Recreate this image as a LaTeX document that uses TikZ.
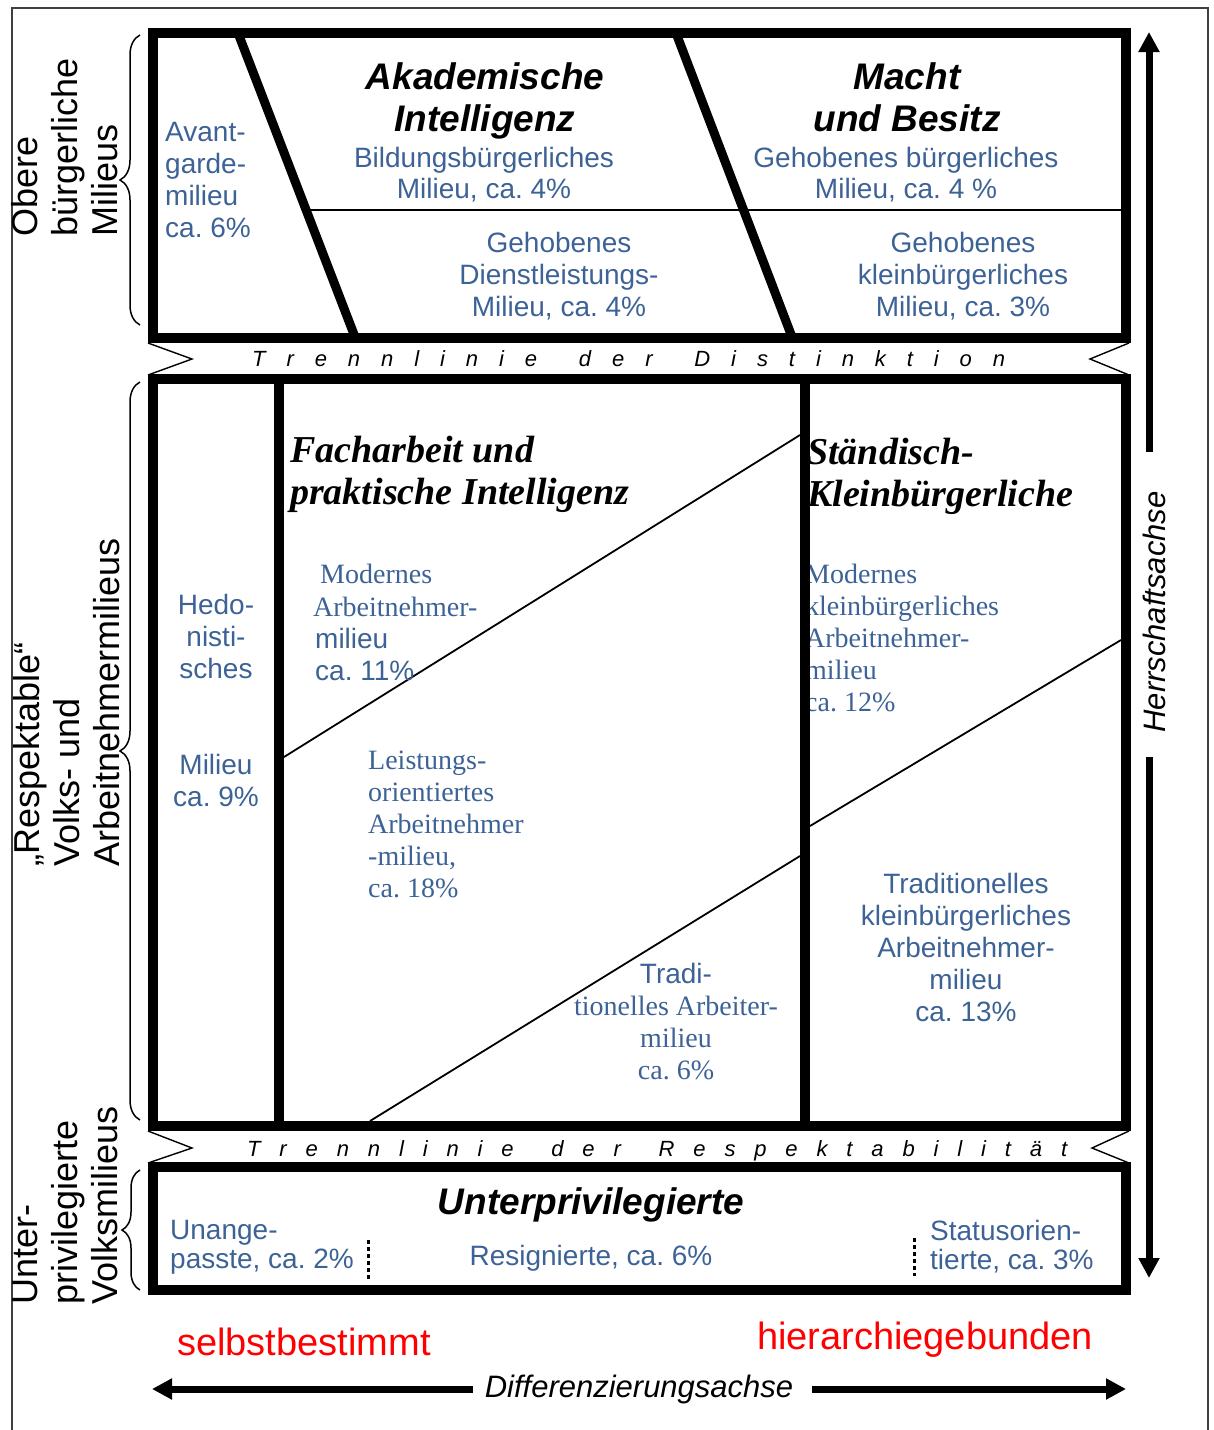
\documentclass[tikz,border=0pt]{standalone}
\usepackage{fontspec}
\setmainfont{Liberation Serif}
\newfontfamily\arialf{Liberation Sans}
\usetikzlibrary{arrows.meta,decorations.pathreplacing}
\definecolor{milblue}{RGB}{60,98,150}
\definecolor{milred}{RGB}{255,0,0}
\newcommand\fsz[2]{\fontsize{#1}{#2}\selectfont}
\frenchspacing
\begin{document}
\begin{tikzpicture}[x=1pt,y=-1pt,
  boxline/.style={line width=10pt},
  diagthick/.style={line width=9pt},
  thinline/.style={line width=1.8pt},
  chev/.style={line width=1.4pt},
  sanblue/.style={font=\arialf\fsz{28}{32}, text=milblue, inner sep=0pt},
  serblue/.style={font=\fsz{28}{32}, text=milblue, inner sep=0pt},
  titlesans/.style={font=\arialf\bfseries\itshape\fsz{37}{42}, inner sep=0pt, align=center},
  titleserif/.style={font=\bfseries\itshape\fsz{38}{42}, inner sep=0pt, align=left},
  sidelabel/.style={font=\arialf\fsz{36}{40}, rotate=90, align=left, anchor=west, inner sep=0pt},
  bandtext/.style={font=\arialf\itshape\fsz{22}{24}, inner sep=0pt, anchor=base west},
  axisarrow/.style={line width=7pt, -{Triangle[width=20pt,length=20pt]}},
  bracket/.style={decorate, decoration={brace, amplitude=20pt}, line width=1.5pt},
  redtext/.style={font=\arialf\fsz{38}{40}, text=milred, inner sep=0pt, anchor=base},
  axislabel/.style={font=\arialf\itshape\fsz{31}{33}, inner sep=0pt}
]
\useasboundingbox (0,0) rectangle (1214,1430);
% outer frame
\draw[line width=1.5pt, black!75] (12,1430) -- (12,8) -- (1208,8) -- (1208,1430);

% braces
\coordinate (b1s) at (140,325); \coordinate (b1e) at (140,35);
\coordinate (b2s) at (140,1120); \coordinate (b2e) at (140,382);
\coordinate (b3s) at (140,1290); \coordinate (b3e) at (140,1170);
\draw[bracket] (b1s) -- (b1e);
\draw[bracket] (b2s) -- (b2e);
\draw[bracket, decoration={brace, amplitude=18pt}] (b3s) -- (b3e);

% side labels
\node[sidelabel] (obere) at (65,237) {Obere\\bürgerliche\\Milieus};
\node[sidelabel] (respekt) at (67,867) {„Respektable“\\Volks- und\\Arbeitnehmermilieus};
\node[sidelabel] (unterl) at (65,1305) {Unter-\\privilegierte\\Volksmilieus};

% text partly hidden by divider
\node[serblue, align=left, anchor=north west] (modk) at (805,564) {Modernes\\kleinbürgerliches\\Arbeitnehmer-\\milieu\\ca. 12\%};

% top box
\draw[boxline] (153,32.5) rectangle (1126,338);
\draw[diagthick] (238,33) -- (355,337);
\draw[diagthick] (676,33) -- (792,337);
\draw[thinline] (305,210) -- (1122,210);

% distinction band
\draw[chev] (148,343) -- (192,359) -- (148,375);
\draw[chev] (1129,343) -- (1090,359) -- (1129,375);
\node[bandtext] (dist) at (252,366) {\hbox to 753pt{T\hfill r\hfill e\hfill n\hfill n\hfill l\hfill i\hfill n\hfill i\hfill e\hfill\hfill d\hfill e\hfill r\hfill\hfill D\hfill i\hfill s\hfill t\hfill i\hfill n\hfill k\hfill t\hfill i\hfill o\hfill n}};

% middle box
\draw[boxline] (153,379) rectangle (1126,1126);
\draw[boxline] (279,379) -- (279,1126);
\draw[boxline] (805,379) -- (805,1126);
\draw[thinline] (284,757) -- (800,435);
\draw[thinline] (370,1121) -- (800,856);
\draw[thinline] (810,826) -- (1121,640);

% respectability band
\draw[chev] (148,1131) -- (192,1148) -- (148,1163);
\draw[chev] (1129,1131) -- (1092,1148) -- (1129,1163);
\node[bandtext] (resp) at (247,1156) {\hbox to 820pt{T\hfill r\hfill e\hfill n\hfill n\hfill l\hfill i\hfill n\hfill i\hfill e\hfill\hfill d\hfill e\hfill r\hfill\hfill R\hfill e\hfill s\hfill p\hfill e\hfill k\hfill t\hfill a\hfill b\hfill i\hfill l\hfill i\hfill t\hfill ä\hfill t}};

% bottom box
\draw[boxline] (153,1167) rectangle (1126,1290);
\draw[line width=3pt, dash pattern=on 4pt off 3pt] (368,1240) -- (368,1280);
\draw[line width=3pt, dash pattern=on 4pt off 3pt] (914,1238) -- (914,1276);

% top box texts
\node[titlesans, anchor=north] (akad) at (485,62) {Akademische\\Intelligenz};
\node[titlesans, anchor=north] (macht) at (907,62) {Macht\\und Besitz};
\node[sanblue, font=\arialf\fsz{28}{31}, align=center, anchor=north] (bild) at (484,147) {Bildungsbürgerliches\\Milieu, ca. 4\%};
\node[sanblue, font=\arialf\fsz{28}{31}, align=center, anchor=north] (gbm) at (906,147) {Gehobenes bürgerliches\\Milieu, ca. 4 \%};
\node[sanblue, align=center, anchor=north] (gdl) at (559,232) {Gehobenes\\Dienstleistungs-\\Milieu, ca. 4\%};
\node[sanblue, align=center, anchor=north] (gkm) at (963,232) {Gehobenes\\kleinbürgerliches\\Milieu, ca. 3\%};
\node[sanblue, align=left, anchor=north west] (avant) at (165,122) {Avant-\\garde-\\milieu\\ca. 6\%};

% middle box texts
\node[sanblue, align=center, anchor=north] (hedo) at (216,594) {Hedo-\\nisti-\\sches};
\node[sanblue, align=center, anchor=north] (hedom) at (216,754) {Milieu\\ca. 9\%};
\node[titleserif, anchor=north west] (fach) at (290,436) {Facharbeit und\\praktische Intelligenz};
\node[titleserif, anchor=north west] (staend) at (807,438) {Ständisch-\\Kleinbürgerliche};
\node[serblue, anchor=base west] (mod1) at (320,583) {Modernes};
\node[serblue, anchor=base west] (mod2) at (313,616) {Arbeitnehmer-};
\node[sanblue, anchor=base west] (mod3) at (315,648) {milieu};
\node[sanblue, anchor=base west] (mod4) at (315,680) {ca. 11\%};
\node[serblue, align=left, anchor=north west] (leist) at (368,751) {Leistungs-\\orientiertes\\Arbeitnehmer\\-milieu,\\ca. 18\%};
\node[sanblue, anchor=base] (trad1) at (676,983) {Tradi-};
\node[serblue, align=center, anchor=north] (trad2) at (676,996) {tionelles Arbeiter-\\milieu\\ca. 6\%};
\node[sanblue, align=center, anchor=north] (tradk) at (966,873) {Traditionelles\\kleinbürgerliches\\Arbeitnehmer-\\milieu\\ca. 13\%};

% bottom box texts
\node[titlesans, anchor=base] (unter) at (591,1214) {Unterprivilegierte};
\node[sanblue, font=\arialf\fsz{28}{29}, align=left, anchor=north west] (unang) at (170,1220) {Unange-\\passte, ca. 2\%};
\node[sanblue, anchor=base] (resig) at (591,1265) {Resignierte, ca. 6\%};
\node[sanblue, font=\arialf\fsz{28}{29}, align=left, anchor=north west] (status) at (930,1220) {Statusorien-\\tierte, ca. 3\%};

% red labels
\node[redtext] (selbst) at (304,1355) {selbstbestimmt};
\node[redtext] (hier) at (925,1349) {hierarchiegebunden};

% axes
\node[axislabel, anchor=base] (diff) at (639,1397) {Differenzierungsachse};
\coordinate (dL1) at (473,1389); \coordinate (dL2) at (152,1389);
\coordinate (dR1) at (812,1389); \coordinate (dR2) at (1126,1389);
\draw[axisarrow] (dL1) -- (dL2);
\draw[axisarrow] (dR1) -- (dR2);
\node[axislabel, rotate=90] (herr) at (1154,612) {Herrschaftsachse};
\coordinate (hT1) at (1149,452); \coordinate (hT2) at (1149,32);
\coordinate (hB1) at (1149,757); \coordinate (hB2) at (1149,1278);
\draw[axisarrow] (hT1) -- (hT2);
\draw[axisarrow] (hB1) -- (hB2);
\end{tikzpicture}
\end{document}
